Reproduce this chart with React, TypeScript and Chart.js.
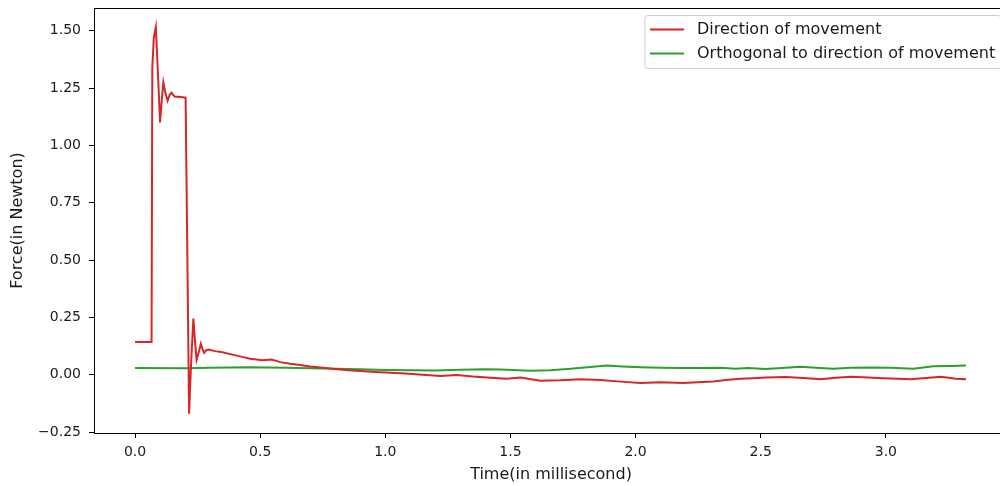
import React, { useEffect, useRef } from "react";
import { Chart, registerables } from "chart.js";

Chart.register(...registerables);

// Direction of movement (red)
const directionTime = [
  0.0, 0.066, 0.069, 0.075, 0.083, 0.092, 0.1, 0.107, 0.113, 0.121, 0.13, 0.138, 0.146, 0.153,
  0.16, 0.175, 0.19, 0.202, 0.216, 0.224, 0.233, 0.24, 0.246, 0.255, 0.263, 0.27, 0.276, 0.285,
  0.293, 0.32, 0.35, 0.38, 0.42, 0.46, 0.51, 0.546, 0.58, 0.62, 0.66, 0.7, 0.75, 0.79, 0.85,
  0.9, 0.96, 1.02, 1.08, 1.15, 1.22, 1.285, 1.35, 1.42, 1.485, 1.54, 1.62, 1.7, 1.78, 1.86,
  1.94, 2.02, 2.1, 2.19, 2.25, 2.31, 2.37, 2.42, 2.47, 2.52, 2.6, 2.67, 2.74, 2.8, 2.86, 2.93,
  2.99, 3.05, 3.1, 3.16, 3.22, 3.28, 3.32,
];
const directionForce = [
  0.143, 0.143, 1.34, 1.47, 1.515, 1.3, 1.1, 1.2, 1.275, 1.23, 1.195, 1.22, 1.23, 1.218,
  1.212, 1.212, 1.21, 1.208, -0.17, 0.05, 0.245, 0.14, 0.065, 0.1, 0.135, 0.11, 0.095, 0.107,
  0.11, 0.103, 0.098, 0.09, 0.08, 0.07, 0.063, 0.066, 0.055, 0.048, 0.042, 0.036, 0.03, 0.026,
  0.02, 0.016, 0.012, 0.009, 0.005, 0.0, -0.006, -0.001, -0.008, -0.013, -0.017, -0.012, -0.026,
  -0.024, -0.02, -0.023, -0.03, -0.036, -0.033, -0.036, -0.033, -0.029, -0.022, -0.017, -0.015,
  -0.012, -0.01, -0.014, -0.02, -0.013, -0.009, -0.012, -0.015, -0.018, -0.02, -0.014, -0.009,
  -0.017, -0.02,
];

// Orthogonal to direction of movement (green)
const orthoTime = [
  0.0, 0.2, 0.3, 0.45, 0.6, 0.75, 0.9, 1.0, 1.1, 1.2, 1.3, 1.4, 1.46, 1.58, 1.66, 1.74, 1.82,
  1.885, 1.95, 2.02, 2.1, 2.18, 2.26, 2.34, 2.4, 2.45, 2.52, 2.6, 2.66, 2.72, 2.79, 2.86, 2.94,
  3.02, 3.11, 3.19, 3.26, 3.32,
];
const orthoForce = [
  0.029, 0.028, 0.03, 0.033, 0.03, 0.027, 0.024, 0.021, 0.02, 0.019, 0.022, 0.024, 0.023, 0.017,
  0.02, 0.026, 0.034, 0.04, 0.036, 0.033, 0.031, 0.029, 0.029, 0.031, 0.026, 0.029, 0.025, 0.031,
  0.035, 0.031, 0.026, 0.03, 0.032, 0.03, 0.026, 0.037, 0.038, 0.04,
];

const xTickValues = [0, 0.5, 1.0, 1.5, 2.0, 2.5, 3.0];
const yTickValues = [-0.25, 0, 0.25, 0.5, 0.75, 1.0, 1.25, 1.5];

const seriesLabels = ["Direction of movement", "Orthogonal to direction of movement"];
const seriesColors = ["#d62728", "#2ca02c"];

const FONT = "'DejaVu Sans', sans-serif";
const TEXT = "#1a1a1a";

const fmt = (v: number, d: number) => v.toFixed(d).replace("-", "\u2212");

const framePlugin = {
  id: "frame",
  afterDatasetsDraw(chart: any) {
    const { ctx, chartArea } = chart;
    ctx.save();
    ctx.strokeStyle = "#000";
    ctx.lineWidth = 1;
    const l = Math.round(chartArea.left) + 0.5;
    const t = Math.round(chartArea.top) + 0.5;
    const r = Math.round(chartArea.right) + 0.5;
    const b = Math.round(chartArea.bottom) + 0.5;
    ctx.strokeRect(l, t, r - l, b - t);
    ctx.restore();
  },
};

const legendPlugin = {
  id: "mplLegend",
  afterDraw(chart: any) {
    const { ctx, chartArea } = chart;
    ctx.save();
    const boxRight = chartArea.right - 7;
    const boxLeft = 645;
    const boxTop = chartArea.top + 7.5;
    const boxH = 53;
    const rad = 3;
    ctx.beginPath();
    ctx.moveTo(boxLeft + rad, boxTop);
    ctx.lineTo(boxRight - rad, boxTop);
    ctx.quadraticCurveTo(boxRight, boxTop, boxRight, boxTop + rad);
    ctx.lineTo(boxRight, boxTop + boxH - rad);
    ctx.quadraticCurveTo(boxRight, boxTop + boxH, boxRight - rad, boxTop + boxH);
    ctx.lineTo(boxLeft + rad, boxTop + boxH);
    ctx.quadraticCurveTo(boxLeft, boxTop + boxH, boxLeft, boxTop + boxH - rad);
    ctx.lineTo(boxLeft, boxTop + rad);
    ctx.quadraticCurveTo(boxLeft, boxTop, boxLeft + rad, boxTop);
    ctx.closePath();
    ctx.fillStyle = "rgba(255,255,255,0.8)";
    ctx.fill();
    ctx.strokeStyle = "#cccccc";
    ctx.lineWidth = 1;
    ctx.stroke();

    ctx.font = `16px ${FONT}`;
    ctx.textBaseline = "middle";
    ctx.textAlign = "left";
    chart.data.datasets.forEach((ds: any, i: number) => {
      const y = Math.round(boxTop + 13) + 0.5 + i * 24;
      ctx.strokeStyle = ds.borderColor;
      ctx.lineWidth = 2;
      ctx.beginPath();
      ctx.moveTo(boxLeft + 5, y);
      ctx.lineTo(boxLeft + 39, y);
      ctx.stroke();
      ctx.fillStyle = TEXT;
      ctx.fillText(ds.label, 697, y);
    });
    ctx.restore();
  },
};

export default function App() {
  const canvasRef = useRef<HTMLCanvasElement | null>(null);

  useEffect(() => {
    const canvas = canvasRef.current;
    if (!canvas) return;
    const chart = new Chart(canvas, {
      type: "line",
      data: {
        datasets: [
          {
            label: seriesLabels[0],
            data: directionTime.map((t, i) => ({ x: t, y: directionForce[i] })),
            borderColor: seriesColors[0],
            backgroundColor: seriesColors[0],
            borderWidth: 2,
            pointRadius: 0,
            tension: 0,
          },
          {
            label: seriesLabels[1],
            data: orthoTime.map((t, i) => ({ x: t, y: orthoForce[i] })),
            borderColor: seriesColors[1],
            backgroundColor: seriesColors[1],
            borderWidth: 2,
            pointRadius: 0,
            tension: 0,
          },
        ],
      },
      options: {
        responsive: false,
        devicePixelRatio: 1,
        animation: false,
        layout: { padding: { left: 0, right: 2, top: 8, bottom: 0 } },
        plugins: { legend: { display: false }, tooltip: { enabled: false } },
        scales: {
          x: {
            type: "linear",
            position: "bottom",
            min: -0.164,
            max: 3.488,
            afterBuildTicks: (s: any) => {
              s.ticks = xTickValues.map((v) => ({ value: v }));
            },
            afterFit: (s: any) => {
              s.height = 53;
              s.paddingLeft = 0;
              s.paddingRight = 0;
            },
            grid: {
              drawOnChartArea: false,
              drawTicks: true,
              tickLength: 5,
              tickColor: "#000",
              color: "#000",
            },
            border: { display: false },
            ticks: {
              padding: 6,
              color: TEXT,
              font: { family: FONT, size: 14 },
              maxRotation: 0,
              autoSkip: false,
              callback: (v: any) => fmt(Number(v), 1),
            },
            title: {
              display: true,
              text: "Time(in millisecond)",
              color: TEXT,
              font: { family: FONT, size: 16 },
              padding: { top: 0, bottom: 1.6 },
            },
          },
          y: {
            type: "linear",
            min: -0.254,
            max: 1.599,
            afterBuildTicks: (s: any) => {
              s.ticks = yTickValues.map((v) => ({ value: v }));
            },
            afterFit: (s: any) => {
              s.width = 94;
              s.paddingTop = 0;
              s.paddingBottom = 0;
            },
            grid: {
              drawOnChartArea: false,
              drawTicks: true,
              tickLength: 5,
              tickColor: "#000",
              color: "#000",
            },
            border: { display: false },
            ticks: {
              padding: 8,
              color: TEXT,
              font: { family: FONT, size: 14 },
              autoSkip: false,
              callback: (v: any) => fmt(Number(v), 2),
            },
            title: {
              display: true,
              text: "Force(in Newton)",
              color: TEXT,
              font: { family: FONT, size: 16 },
              padding: { top: 8.4, bottom: 0 },
            },
          },
        },
      },
      plugins: [framePlugin, legendPlugin],
    });
    return () => chart.destroy();
  }, []);

  return (
    <div
      style={{
        position: "absolute",
        left: 0,
        top: 0,
        width: 1000,
        height: 486,
        overflow: "hidden",
        background: "#fff",
      }}
    >
      <canvas ref={canvasRef} width={1010} height={486} style={{ display: "block" }} />
    </div>
  );
}
